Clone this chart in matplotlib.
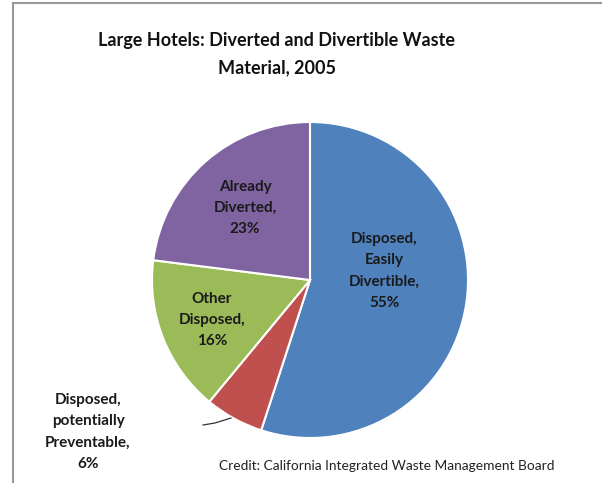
import matplotlib.pyplot as plt
from matplotlib.lines import Line2D

# datos del grafico
categorias = ['Disposed,\nEasily\nDivertible,', 'Disposed,\npotentially\nPreventable,',
              'Other\nDisposed,', 'Already\nDiverted,']
porcentajes = [55, 6, 16, 23]
colores = ['#4F81BD', '#C0504D', '#9BBB59', '#8064A2']

W, H = 602, 483
fig = plt.figure(figsize=(W / 100, H / 100), dpi=100)
fig.patch.set_facecolor('white')

# centro y radio del pastel en pixeles
cx, cy, r = 310, 280, 158
ax = fig.add_axes([(cx - r) / W, (H - cy - r) / H, 2 * r / W, 2 * r / H])
ax.pie(porcentajes, colors=colores, startangle=90, counterclock=False,
       radius=1, wedgeprops=dict(edgecolor='white', linewidth=1.5))
ax.set_xlim(-1, 1)
ax.set_ylim(-1, 1)
ax.set_aspect('equal')
ax.axis('off')

fuente = 'Lato'

# posiciones de etiquetas (pixeles)
pos = [(384, 271), (88, 432), (212, 320), (245, 208)]
for cat, p, (px, py) in zip(categorias, porcentajes, pos):
    fig.text(px / W, 1 - py / H, cat + '\n' + str(p) + '%', ha='center', va='center',
             fontsize=11, fontweight='bold', family=fuente, linespacing=1.68, color='#1a1a1a')

# linea guia de la etiqueta pequena
fig.add_artist(Line2D([203 / W, 215 / W, 231 / W], [1 - 425 / H, 1 - 423 / H, 1 - 418 / H],
                      color='#333333', linewidth=0.9))

fig.text(0.46, 1 - 54 / H, 'Large Hotels: Diverted and Divertible Waste\nMaterial, 2005',
         ha='center', va='center', fontsize=13, fontweight='bold', family=fuente,
         linespacing=1.75, color='#111111')

fig.text(387 / W, 1 - 466 / H, 'Credit: California Integrated Waste Management Board',
         ha='center', va='center', fontsize=9.9, family=fuente, color='#222222')

# marco
fig.add_artist(Line2D([13 / W, 13 / W], [0, 1 - 3 / H], color='#999999', linewidth=1.5))
fig.add_artist(Line2D([13 / W, 1], [1 - 3 / H, 1 - 3 / H], color='#999999', linewidth=1.5))

fig.savefig('out.png', dpi=100)
